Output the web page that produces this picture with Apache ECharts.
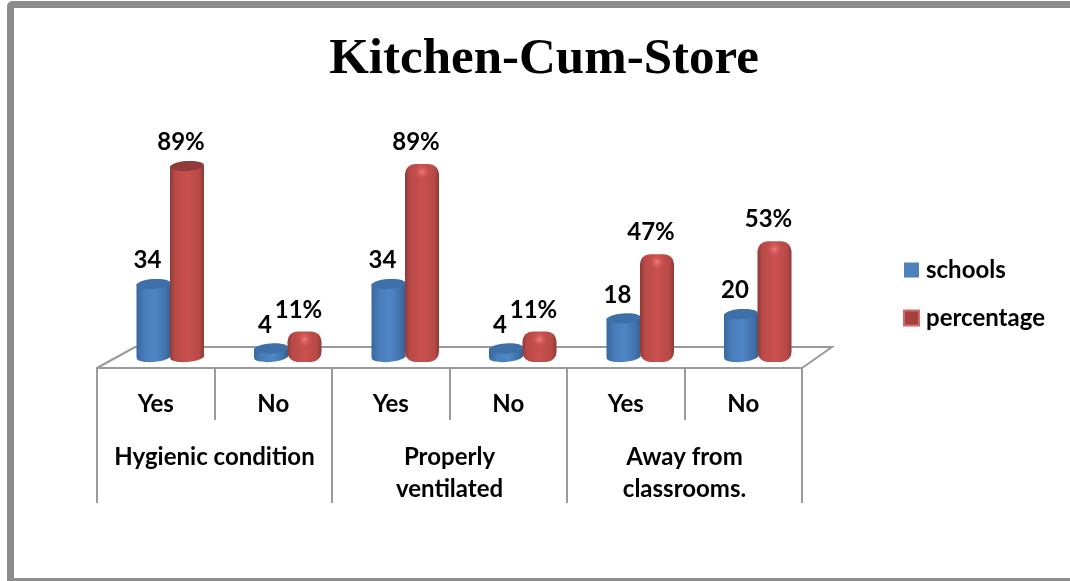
<!DOCTYPE html>
<html><head><meta charset="utf-8">
<script src="https://cdn.jsdelivr.net/npm/echarts@6/dist/echarts.min.js"></script>
<style>html,body{margin:0;padding:0;background:#fff}#c{width:1070px;height:581px}</style>
</head><body><div id="c"></div>
<script>
const chartTitle = 'Kitchen-Cum-Store';
const answers = ['Yes','No','Yes','No','Yes','No'];
const groups = ['Hygienic condition','Properly\nventilated','Away from\nclassrooms.'];
const schools = [34,4,34,4,18,20];
const percentage = [89,11,89,11,47,53];

const FONT = 'Lato, "Open Sans", sans-serif';
const G = echarts.graphic;
function hGrad(stops){return new G.LinearGradient(0,0,1,0,stops.map((c,i)=>({offset:c[0],color:c[1]})));}
const blueBody = hGrad([[0,'#39689f'],[0.25,'#4a7ebb'],[0.55,'#4f86c6'],[0.85,'#4272ab'],[1,'#376092']]);
const redBody = hGrad([[0,'#8e3a38'],[0.14,'#b84a47'],[0.5,'#c9504e'],[0.86,'#b84a47'],[1,'#8e3a38']]);

function cylinder(kind, suffix){
  return function(params, api){
    const v = api.value(1);
    const p = api.coord([api.value(0), v]);
    const b = api.coord([api.value(0), 0]);
    const w = 34, rx = w/2, ry = 5;
    const cx = p[0] + (kind==='blue' ? -16.5 : 17);
    const children = [];
    const rounded = kind==='red' && params.dataIndex>0;
    if(rounded){
      children.push({type:'rect',shape:{x:cx-rx,y:p[1]-2,width:w,height:b[1]-p[1]+7,r:10},style:{fill:redBody}});
      children.push({type:'ellipse',shape:{cx:cx,cy:p[1]+6,rx:15,ry:8},style:{fill:new G.RadialGradient(0.5,0.5,0.5,[{offset:0,color:'rgba(250,130,130,0.85)'},{offset:1,color:'rgba(201,80,78,0)'}])}});
    } else {
      const body = kind==='blue' ? blueBody : redBody;
      const top = kind==='blue' ? '#3d6fa8' : '#8f3c3a';
      children.push({type:'ellipse',x:cx,y:b[1],rotation:0.07,shape:{cx:0,cy:0,rx:rx,ry:ry},style:{fill:body}});
      children.push({type:'rect',shape:{x:cx-rx,y:p[1],width:w,height:b[1]-p[1]},style:{fill:body}});
      children.push({type:'ellipse',x:cx,y:p[1],rotation:0.07,shape:{cx:0,cy:0,rx:rx,ry:ry},style:{fill:top}});
    }
    children.push({type:'text',x:cx-6,y:p[1]-23.5,style:{text:v+suffix,font:'bold 24px '+FONT,fill:'#000',align:'center',verticalAlign:'middle'}});
    return {type:'group',children:children};
  };
}

const chart = echarts.init(document.getElementById('c'),null,{renderer:'canvas'});
const gray = '#9a9a9a';
chart.setOption({
  animation:false,
  backgroundColor:'#fff',
  title:{text:chartTitle,left:539,top:29,textAlign:'center',textStyle:{fontFamily:'"Liberation Serif", serif',fontWeight:'bold',fontSize:51,color:'#000'}},
  legend:{orient:'vertical',left:898,top:253,itemWidth:15,itemHeight:15,itemGap:24,icon:'rect',
    textStyle:{fontFamily:FONT,fontWeight:'bold',fontSize:24,lineHeight:24,color:'#000',padding:[0,0,0,2]},
    data:[{name:'schools'},{name:'percentage',itemStyle:{color:'#a5403e',borderColor:'#d06a68',borderWidth:2}}]},
  grid:[
    {left:111.25,width:705,top:142.4,height:214.6},
    {left:97,width:705,top:367,height:1}
  ],
  xAxis:[
    {gridIndex:0,type:'category',data:answers,show:false},
    {gridIndex:1,type:'category',data:answers,position:'bottom',
      axisLine:{show:true,lineStyle:{color:gray,width:2}},
      axisTick:{show:true,length:52,lineStyle:{color:gray,width:2}},
      axisLabel:{margin:24,fontFamily:FONT,fontWeight:'bold',fontSize:24,color:'#000',interval:0}},
    {gridIndex:1,type:'category',data:groups,position:'bottom',
      axisLine:{show:false},
      axisTick:{show:true,length:135,lineStyle:{color:gray,width:2}},
      axisLabel:{margin:73,fontFamily:FONT,fontWeight:'bold',fontSize:24,lineHeight:32,color:'#000',interval:0,verticalAlign:'top'}}
  ],
  yAxis:[
    {gridIndex:0,type:'value',min:0,max:100,show:false},
    {gridIndex:1,type:'value',min:0,max:1,show:false}
  ],
  graphic:[
    {type:'rect',z:-1,shape:{x:7,y:1,width:1063,height:7,r:[6,0,0,0]},style:{fill:'#8c8c8c'}},
    {type:'rect',z:-1,shape:{x:7,y:1,width:7,height:580,r:[6,0,0,0]},style:{fill:'#8c8c8c'}},
    {type:'rect',z:-1,shape:{x:7,y:578,width:1063,height:3},style:{fill:'#8c8c8c'}},
    {type:'polyline',z:-1,shape:{points:[[97,368],[135,347],[832,347],[802,368]]},style:{fill:'none',stroke:gray,lineWidth:2}}
  ],
  series:[
    {name:'schools',type:'custom',xAxisIndex:0,yAxisIndex:0,z:3,itemStyle:{color:'#4f81bd'},encode:{x:0,y:1},
      data:schools.map((v,i)=>[i,v]),renderItem:cylinder('blue','')},
    {name:'percentage',type:'custom',xAxisIndex:0,yAxisIndex:0,z:4,itemStyle:{color:'#a5403e'},encode:{x:0,y:1},
      data:percentage.map((v,i)=>[i,v]),renderItem:cylinder('red','%')}
  ]
});
</script></body></html>
